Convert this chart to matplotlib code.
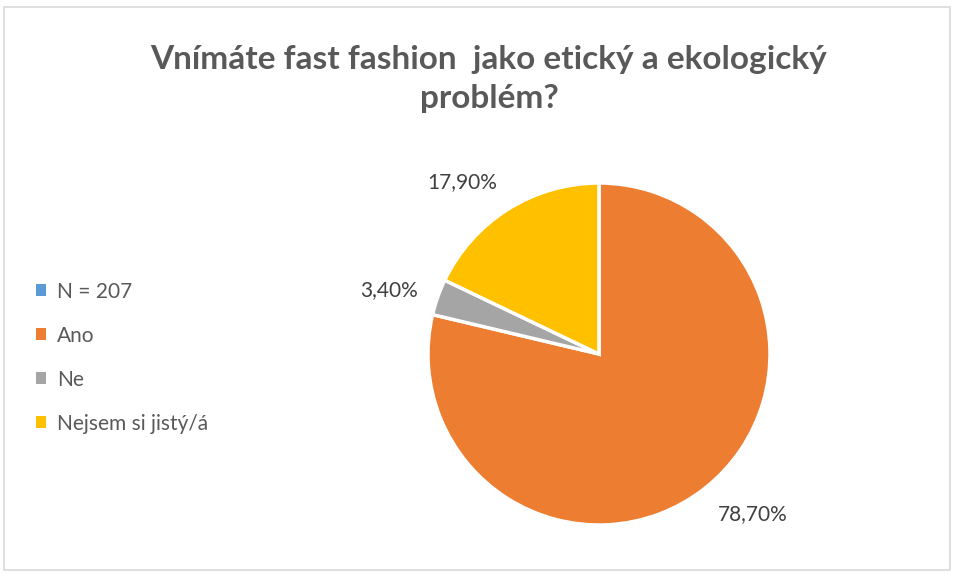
import numpy as np
import matplotlib.pyplot as plt
from matplotlib.patches import Patch, Rectangle

# data
kategorie = ["N = 207", "Ano", "Ne", "Nejsem si jistý/á"]
hodnoty = [0.0, 78.7, 3.4, 17.9]
barvy = ["#5B9BD5", "#ED7D31", "#A5A5A5", "#FFC000"]

titulek = "Vnímáte fast fashion  jako etický a ekologický\nproblém?"

plt.rcParams["font.family"] = ["Lato", "DejaVu Sans"]

fig = plt.figure(figsize=(9.55, 5.77), dpi=100)
fig.patch.set_facecolor("white")

# ramecek okolo grafu
fig.patches.append(Rectangle((4 / 955, 7 / 577), 946 / 955, 563 / 577,
                             transform=fig.transFigure, fill=False,
                             edgecolor="#D9D9D9", linewidth=1.2))

fig.text(0.512, 0.863, titulek, ha="center", va="center", fontsize=24,
         fontweight="bold", color="#595959", linespacing=1.4)

ax = fig.add_axes([428 / 955, 52 / 577, 342 / 955, 342 / 577])

nenulove = [i for i, h in enumerate(hodnoty) if h > 0]
wedges, _ = ax.pie([hodnoty[i] for i in nenulove],
                   colors=[barvy[i] for i in nenulove],
                   startangle=90, counterclock=False, radius=1,
                   wedgeprops=dict(edgecolor="white", linewidth=2.5))

for w, i in zip(wedges, nenulove):
    uhel = np.deg2rad((w.theta1 + w.theta2) / 2)
    x, y = 1.12 * np.cos(uhel), 1.12 * np.sin(uhel)
    ha = "left" if x > 0 else "right"
    va = "top" if y < -0.5 else ("bottom" if y > 0.5 else "center")
    ax.text(x, y, f"{hodnoty[i]:.2f}%".replace(".", ","), ha=ha, va=va,
            fontsize=15, color="#404040")

ax.set_xlim(-1, 1)
ax.set_ylim(-1, 1)
ax.set_aspect("equal")
ax.axis("off")

handles = [Patch(facecolor=c, label=k) for k, c in zip(kategorie, barvy)]
fig.legend(handles=handles, loc="center left", bbox_to_anchor=(0.018, 0.38),
           frameon=False, fontsize=15, labelcolor="#595959",
           handlelength=0.5, handleheight=0.5, handletextpad=0.5,
           labelspacing=1.15)

fig.savefig("out.png", dpi=100)
